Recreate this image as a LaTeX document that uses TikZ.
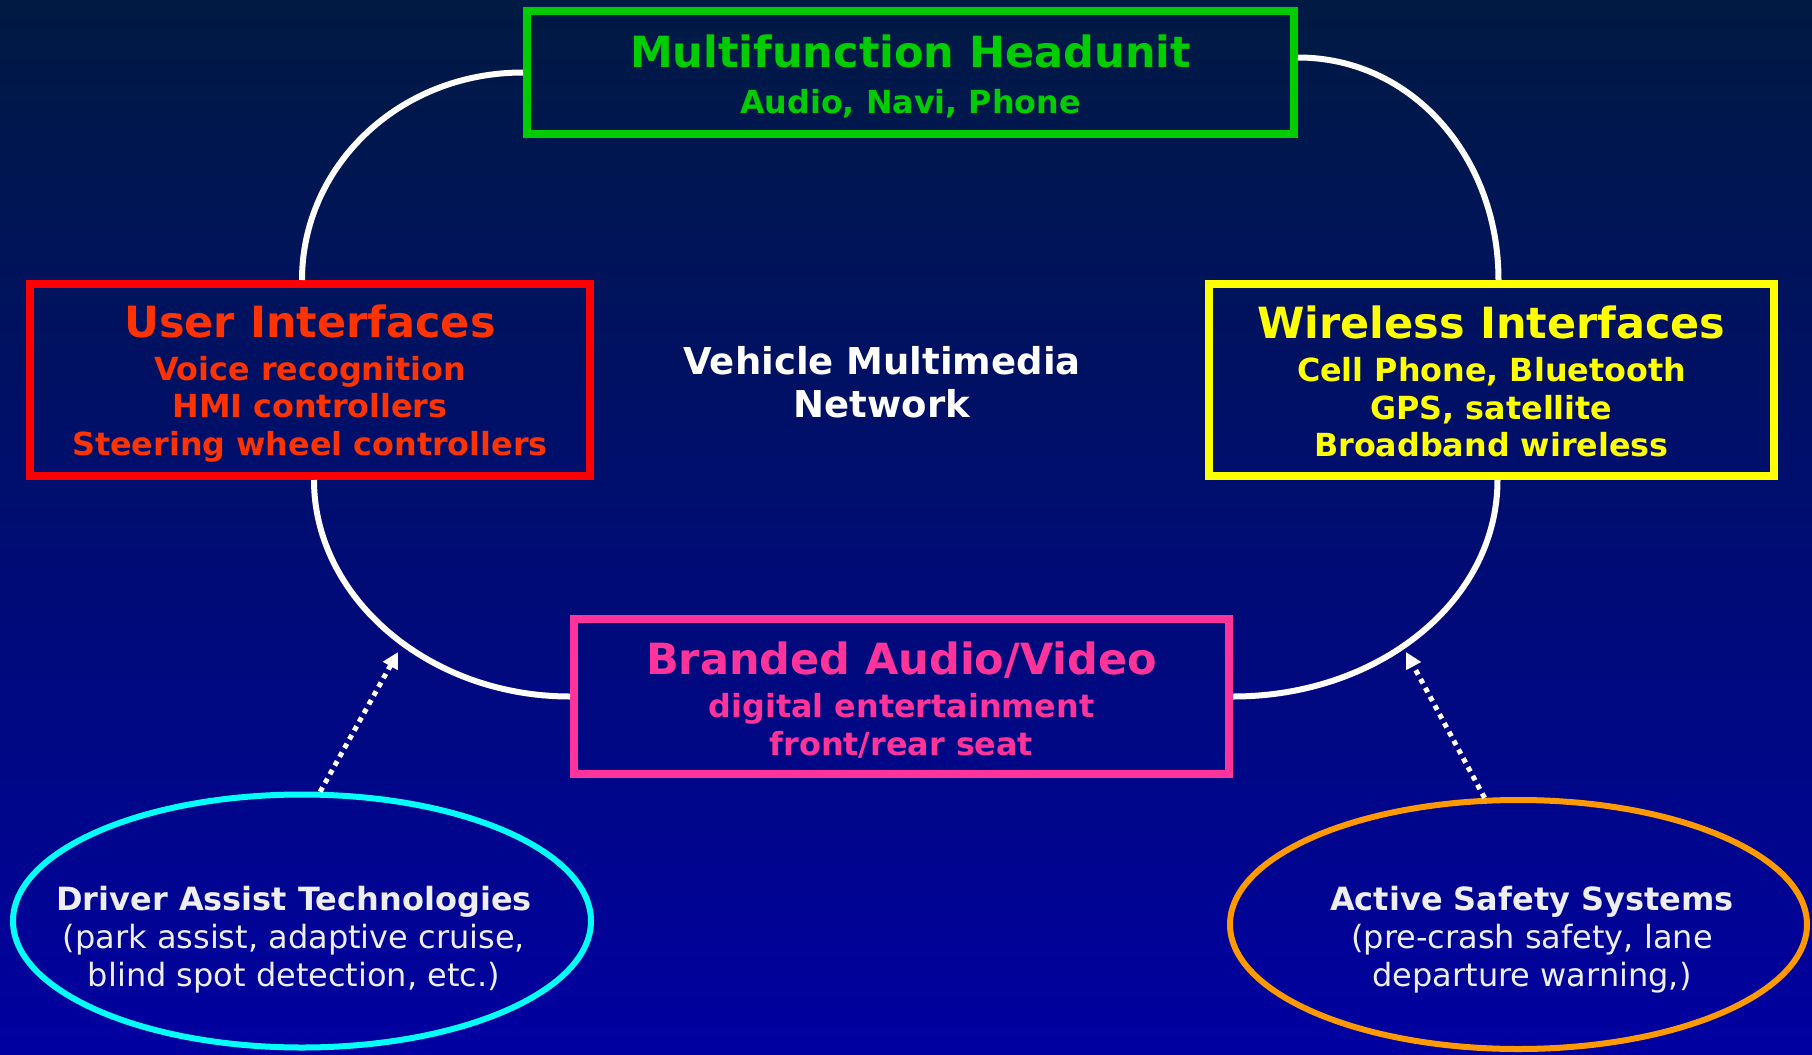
\documentclass[tikz,border=0pt]{standalone}
\usepackage{fontspec}
\setmainfont{DejaVu Sans}
\usetikzlibrary{calc,shapes.geometric,arrows.meta}
\definecolor{navytop}{RGB}{0,26,66}
\definecolor{navymid}{RGB}{0,16,115}
\definecolor{navybot}{RGB}{0,0,160}
\definecolor{headgreen}{RGB}{0,204,0}
\definecolor{uired}{RGB}{255,0,0}
\definecolor{uitext}{RGB}{255,51,0}
\definecolor{wlyellow}{RGB}{255,255,0}
\definecolor{avpink}{RGB}{255,51,153}
\definecolor{dacyan}{RGB}{0,255,255}
\definecolor{asorange}{RGB}{255,153,0}
\definecolor{ovaltext}{RGB}{238,238,240}
\newcommand{\headsize}{\fontsize{21.5}{25}\selectfont\bfseries}
\newcommand{\linesize}{\fontsize{15.9}{18.8}\selectfont\bfseries}
\newcommand{\ovalsize}{\fontsize{16}{19}\selectfont}
\tikzset{
	unitbox/.style={draw, line width=4pt, inner sep=0pt, align=center, font=\linesize},
	ovalbox/.style={draw, ellipse, line width=3pt, inner sep=0pt},
	ovallabel/.style={align=center, text=ovaltext, font=\ovalsize, inner sep=0pt},
	ring/.style={draw=white, line width=3pt},
	feed/.style={draw=white, line width=2.5pt, dash pattern=on 2.5pt off 2.5pt, -{Triangle[length=8pt,width=8pt]}}
}

\begin{document}
\begin{tikzpicture}[x=0.5pt, y=-0.5pt]
			%%%%% START %%%%%
			
			\fill[top color=navytop, middle color=navymid, bottom color=navybot] (0, 0) rectangle (1812, 1055);
			\useasboundingbox (0, 0) rectangle (1812, 1055);
			
			\node[unitbox, draw=headgreen, text=headgreen, minimum width=383.5pt, minimum height=61.5pt] (head) at (910.5, 72.5) {\rule{0pt}{20pt}{\headsize Multifunction Headunit}\\[4pt] Audio, Navi, Phone};
			
			\node[unitbox, draw=uired, text=uitext, minimum width=280pt, minimum height=96pt] (ui) at (310, 380) {\rule{0pt}{20pt}{\headsize User Interfaces}\\[2.5pt] Voice recognition\\ HMI controllers\\ Steering wheel controllers};
			
			\node[unitbox, draw=wlyellow, text=wlyellow, minimum width=282.5pt, minimum height=96pt] (wl) at (1491.5, 380) {\rule{0pt}{18pt}{\headsize Wireless Interfaces}\\[2.5pt] Cell Phone, Bluetooth\\ GPS, satellite\\ Broadband wireless};
			
			\node[unitbox, draw=avpink, text=avpink, minimum width=327.5pt, minimum height=77.5pt] (av) at (901.5, 696.5) {\rule{0pt}{20pt}{\headsize Branded Audio/Video}\\[2.5pt] digital entertainment\\ front/rear seat};
			
			\node[text=white, align=center, font=\fontsize{18.5}{21.5}\selectfont\bfseries] (vmn) at (882, 382) {Vehicle Multimedia\\ Network};
			
			\draw[ring] (head.west) .. controls +(-125, 0) and +(0, -113) .. ([xshift=-4pt]ui.north);
			\draw[ring] ([xshift=2pt]ui.south) .. controls +(0, 118) and +(-141, 0) .. (av.west);
			\draw[ring] ($(head.east)+(0, -15)$) .. controls +(114, 0) and +(0, -123) .. ([xshift=3.5pt]wl.north);
			\draw[ring] ([xshift=3pt]wl.south) .. controls +(0, 121) and +(146, 0) .. (av.east);
			
			\node[ovalbox, draw=dacyan, minimum width=289pt, minimum height=126.5pt] (da) at (302, 921) {};
			\node[ovallabel] (datext) at (294, 939.5) {\textbf{Driver Assist Technologies}\\ (park assist, adaptive cruise,\\ blind spot detection, etc.)};
			
			\node[ovalbox, draw=asorange, minimum width=288.5pt, minimum height=124.5pt] (as) at (1518.5, 924.5) {};
			\node[ovallabel] (astext) at (1532, 939.5) {\textbf{Active Safety Systems}\\ (pre-crash safety, lane\\ departure warning,)};
			
			\coordinate (datip) at (398, 652);
			\coordinate (astip) at (1406, 652);
			\draw[feed] (da.82) -- (datip);
			\draw[feed] (as.105) -- (astip);
			
			%%%%% END %%%%%
\end{tikzpicture}
\end{document}
